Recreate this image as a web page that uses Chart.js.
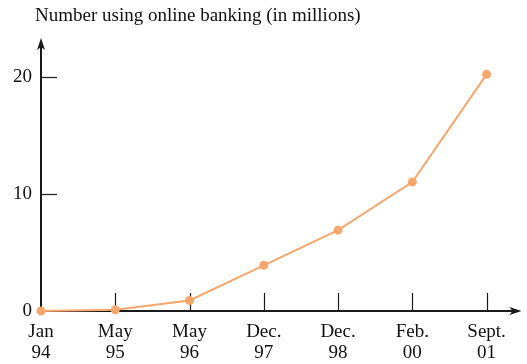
<!DOCTYPE html>
<html>
<head>
<meta charset="utf-8">
<script src="https://cdn.jsdelivr.net/npm/chart.js@4/dist/chart.umd.min.js"></script>
<style>
  html, body { margin: 0; padding: 0; background: #fff; }
  #wrap { width: 527px; height: 364px; }
</style>
</head>
<body>
<div id="wrap"><canvas id="bankChart"></canvas></div>
<script>
const title = "Number using online banking (in millions)";
const dateLabels = [["Jan", "94"], ["May", "95"], ["May", "96"], ["Dec.", "97"], ["Dec.", "98"], ["Feb.", "00"], ["Sept.", "01"]];
const users = [0, 0.1, 0.9, 3.9, 6.9, 11.0, 20.2];
const yTicks = [0, 10, 20];

const orange = "#f7a66c";
const serif = "'Liberation Serif', 'Times New Roman', serif";

// axes with arrowheads, inward tick marks and the title over the y axis
const axesPlugin = {
  id: "axes",
  beforeDatasetsDraw(chart) {
    const { ctx, chartArea: a, scales: { x, y } } = chart;
    const y0 = y.getPixelForValue(0);
    const x0 = x.getPixelForValue(0);
    ctx.save();
    ctx.strokeStyle = "#1a1a1a";
    ctx.fillStyle = "#1a1a1a";

    ctx.lineWidth = 1.2;
    dateLabels.forEach((_, i) => {
      if (i === 0) return;
      const px = Math.round(x.getPixelForValue(i)) + 0.5;
      ctx.beginPath();
      ctx.moveTo(px, y0);
      ctx.lineTo(px, y0 - 18);
      ctx.stroke();
    });
    yTicks.forEach((v) => {
      if (v === 0) return;
      const py = Math.round(y.getPixelForValue(v)) + 0.5;
      ctx.beginPath();
      ctx.moveTo(x0, py);
      ctx.lineTo(x0 + 16, py);
      ctx.stroke();
    });

    ctx.lineWidth = 2;
    ctx.beginPath();
    ctx.moveTo(x0, y0);
    ctx.lineTo(x0, a.top + 8);
    ctx.moveTo(x0, y0);
    ctx.lineTo(a.right - 8, y0);
    ctx.stroke();

    ctx.beginPath();
    ctx.moveTo(x0, a.top);
    ctx.lineTo(x0 - 4, a.top + 12);
    ctx.lineTo(x0, a.top + 9);
    ctx.lineTo(x0 + 4, a.top + 12);
    ctx.closePath();
    ctx.fill();

    ctx.beginPath();
    ctx.moveTo(a.right, y0);
    ctx.lineTo(a.right - 12, y0 - 4);
    ctx.lineTo(a.right - 9, y0);
    ctx.lineTo(a.right - 12, y0 + 4);
    ctx.closePath();
    ctx.fill();

    ctx.fillStyle = "#111";
    ctx.font = "19px " + serif;
    ctx.textAlign = "left";
    ctx.textBaseline = "middle";
    ctx.fillText(title, 35, 16);
    ctx.restore();
  },
};

new Chart(document.getElementById("bankChart"), {
  type: "line",
  data: {
    datasets: [
      {
        data: users.map((v, i) => ({ x: i, y: v })),
        borderColor: orange,
        backgroundColor: orange,
        borderWidth: 2,
        pointRadius: 3.5,
        pointHoverRadius: 3.5,
        tension: 0,
        clip: false,
      },
    ],
  },
  options: {
    responsive: true,
    maintainAspectRatio: false,
    animation: false,
    layout: { padding: { left: 8, right: 5, top: 38, bottom: 0 } },
    scales: {
      x: {
        type: "linear",
        min: 0,
        max: 6.47,
        grid: { display: false, drawTicks: false },
        border: { display: false },
        afterBuildTicks: (s) => {
          s.ticks = dateLabels.map((_, i) => ({ value: i }));
        },
        afterFit: (s) => { s.height = 53; },
        ticks: {
          padding: 10,
          maxRotation: 0,
          autoSkip: false,
          color: "#111",
          font: { family: serif, size: 19, lineHeight: 1.12 },
          callback: (v) => dateLabels[v],
        },
      },
      y: {
        min: 0,
        max: 23.3,
        grid: { display: false, drawTicks: false },
        border: { display: false },
        afterBuildTicks: (s) => {
          s.ticks = yTicks.map((v) => ({ value: v }));
        },
        afterFit: (s) => { s.width = 33; },
        ticks: {
          padding: 9,
          color: "#111",
          font: { family: serif, size: 19 },
        },
      },
    },
    plugins: {
      legend: { display: false },
      tooltip: { enabled: false },
    },
  },
  plugins: [axesPlugin],
});
</script>
</body>
</html>
